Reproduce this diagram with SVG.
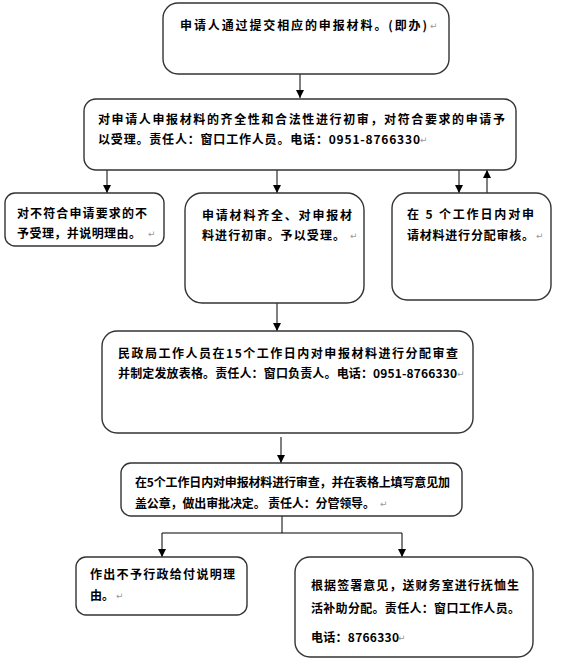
<svg xmlns="http://www.w3.org/2000/svg" width="562" height="664" viewBox="0 0 562 664">
<defs>
<marker id="ah" viewBox="0 0 10 10" refX="10" refY="5" markerWidth="8" markerHeight="8" markerUnits="userSpaceOnUse" orient="auto">
<path d="M0,0 L10,5 L0,10 Z" fill="#000"/>
</marker>
<style>
.box{fill:#fff;stroke:#333;stroke-width:1.4}
.t{font-family:"Noto Sans CJK SC","Liberation Sans",sans-serif;font-size:12px;font-weight:bold;fill:#000}
.pm{font-family:"DejaVu Sans",sans-serif;font-size:9px;fill:#999}
.c{fill:none;stroke:#000;stroke-width:1}
</style>
</defs>
<rect width="562" height="664" fill="#fff"/>
<g id="connectors">
<line class="c" x1="300" y1="74" x2="300" y2="98" marker-end="url(#ah)"/>
<line class="c" x1="107" y1="170" x2="107" y2="193" marker-end="url(#ah)"/>
<line class="c" x1="277" y1="170" x2="277" y2="193" marker-end="url(#ah)"/>
<line class="c" x1="459" y1="170" x2="459" y2="193" marker-end="url(#ah)"/>
<line class="c" x1="487" y1="193" x2="487" y2="170" marker-end="url(#ah)"/>
<line class="c" x1="277" y1="303" x2="277" y2="331" marker-end="url(#ah)"/>
<line class="c" x1="281" y1="437" x2="281" y2="463" marker-end="url(#ah)"/>
<polyline class="c" points="282,516 282,533 162,533 162,557" marker-end="url(#ah)"/>
<polyline class="c" points="282,533 402,533 402,557" marker-end="url(#ah)"/>
</g>
<g id="n1">
<rect class="box" x="163" y="3" width="286" height="71" rx="15"/>
<text class="t" x="180" y="30" textLength="247" lengthAdjust="spacing">申请人通过提交相应的申报材料。(即办)</text>
<text class="pm" x="430" y="29">↵</text>
</g>
<g id="n2">
<rect class="box" x="84" y="99" width="432" height="71" rx="12"/>
<text class="t" x="98" y="124" textLength="407" lengthAdjust="spacing">对申请人申报材料的齐全性和合法性进行初审，对符合要求的申请予</text>
<text class="t" x="98" y="144" textLength="322" lengthAdjust="spacing">以受理。责任人：窗口工作人员。电话：0951-8766330</text>
<text class="pm" x="420" y="143">↵</text>
</g>
<g id="n3">
<rect class="box" x="5" y="193" width="159" height="53" rx="10"/>
<text class="t" x="17" y="218" textLength="130" lengthAdjust="spacing">对不符合申请要求的不</text>
<text class="t" x="17" y="238" textLength="124" lengthAdjust="spacing">予受理，并说明理由。</text>
<text class="pm" x="148" y="237">↵</text>
</g>
<g id="n4">
<rect class="box" x="185" y="193" width="179" height="110" rx="17"/>
<text class="t" x="202" y="220" textLength="150" lengthAdjust="spacing">申请材料齐全、对申报材</text>
<text class="t" x="202" y="240" textLength="143" lengthAdjust="spacing">料进行初审。予以受理。</text>
<text class="pm" x="350" y="239">↵</text>
</g>
<g id="n5">
<rect class="box" x="392" y="193" width="159" height="107" rx="15"/>
<text class="t" x="407" y="219" textLength="127" lengthAdjust="spacing">在 5 个工作日内对申</text>
<text class="t" x="407" y="240" textLength="127" lengthAdjust="spacing">请材料进行分配审核。</text>
<text class="pm" x="536" y="239">↵</text>
</g>
<g id="n6">
<rect class="box" x="102" y="331" width="371" height="102" rx="15"/>
<text class="t" x="118" y="358" textLength="340" lengthAdjust="spacing">民政局工作人员在15个工作日内对申报材料进行分配审查</text>
<text class="t" x="118" y="378" textLength="339" lengthAdjust="spacing">并制定发放表格。责任人：窗口负责人。电话：0951-8766330</text>
<text class="pm" x="457" y="377">↵</text>
</g>
<g id="n7">
<rect class="box" x="121" y="463" width="341" height="53" rx="10"/>
<text class="t" x="135" y="487" textLength="315" lengthAdjust="spacing">在5个工作日内对申报材料进行审查，并在表格上填写意见加</text>
<text class="t" x="135" y="508" textLength="240" lengthAdjust="spacing">盖公章，做出审批决定。 责任人：分管领导。</text>
<text class="pm" x="380" y="507">↵</text>
</g>
<g id="n8">
<rect class="box" x="76" y="557" width="171" height="58" rx="10"/>
<text class="t" x="90" y="579" textLength="145" lengthAdjust="spacing">作出不予行政给付说明理</text>
<text class="t" x="90" y="600">由。</text>
<text class="pm" x="116" y="599">↵</text>
</g>
<g id="n9">
<rect class="box" x="295" y="557" width="238" height="100" rx="15"/>
<text class="t" x="311" y="590" textLength="208" lengthAdjust="spacing">根据签署意见，送财务室进行抚恤生</text>
<text class="t" x="311" y="613" textLength="209" lengthAdjust="spacing">活补助分配。责任人：窗口工作人员。</text>
<text class="t" x="311" y="642" textLength="88" lengthAdjust="spacing">电话：8766330</text>
<text class="pm" x="398" y="641">↵</text>
</g>
</svg>
